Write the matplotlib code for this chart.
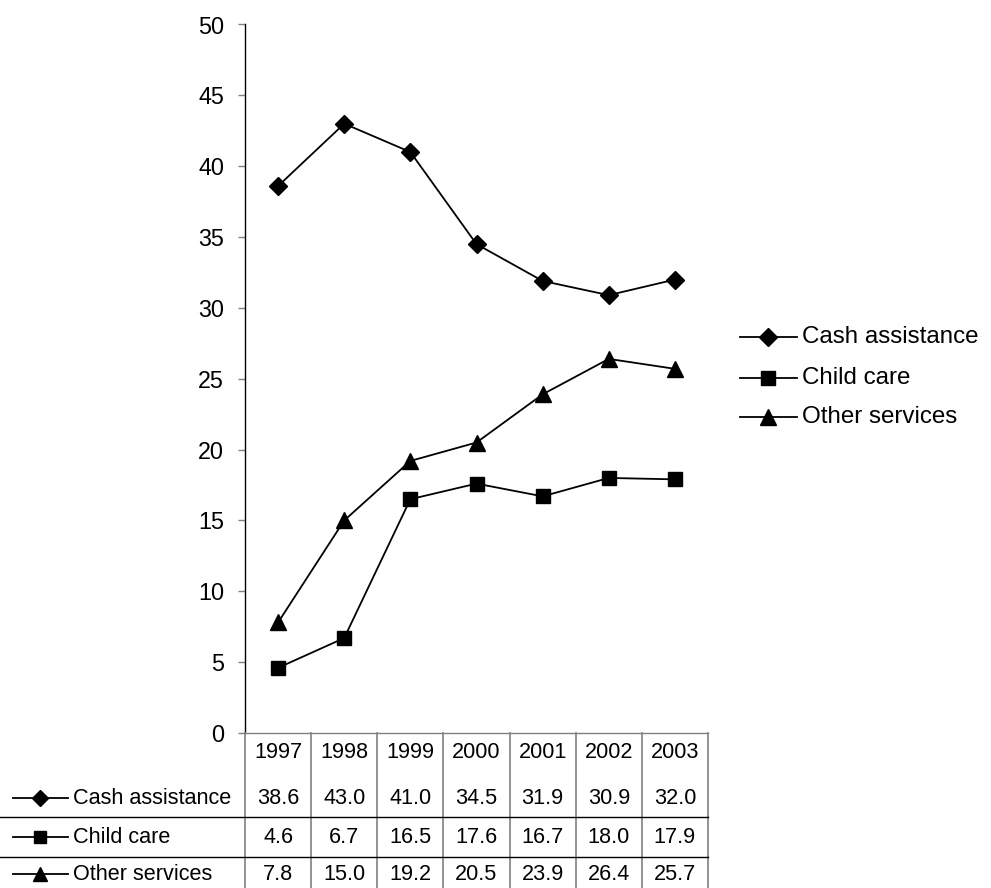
import matplotlib
matplotlib.use("Agg")
import matplotlib.pyplot as plt
import matplotlib.transforms as mtransforms
from matplotlib.lines import Line2D

plt.rcParams['font.family'] = ['Liberation Sans', 'DejaVu Sans']

years = ["1997", "1998", "1999", "2000", "2001", "2002", "2003"]
series_names = ["Cash assistance", "Child care", "Other services"]
cash_assistance = [38.6, 43.0, 41.0, 34.5, 31.9, 30.9, 32.0]
child_care = [4.6, 6.7, 16.5, 17.6, 16.7, 18.0, 17.9]
other_services = [7.8, 15.0, 19.2, 20.5, 23.9, 26.4, 25.7]
y_ticks = [0, 5, 10, 15, 20, 25, 30, 35, 40, 45, 50]

series = [cash_assistance, child_care, other_services]
markers = ["D", "s", "^"]
msizes = [9.5, 10, 11.5]

W, H = 991, 888
fig = plt.figure(figsize=(W / 100, H / 100), dpi=100)
ax = fig.add_axes([245 / W, (H - 733) / H, (708 - 245) / W, (733 - 24.5) / H])

x = list(range(len(years)))
for vals, m, ms, name in zip(series, markers, msizes, series_names):
    ax.plot(x, vals, color="black", lw=1.3, marker=m, markersize=ms,
            markerfacecolor="black", markeredgecolor="black", label=name)

ax.set_xlim(-0.5, len(years) - 0.5)
ax.set_ylim(0, 50)
ax.set_yticks(y_ticks)
ax.set_yticklabels([str(t) for t in y_ticks], fontsize=16.8)
ax.tick_params(axis="y", direction="out", length=5, width=1, color="#808080", pad=10)
ax.set_xticks([])
for s in ["top", "right"]:
    ax.spines[s].set_visible(False)
ax.spines["left"].set_color("black")
ax.spines["bottom"].set_color("#808080")
ax.spines["left"].set_linewidth(1)
ax.spines["bottom"].set_linewidth(1)

# data table beneath the plot
blend = mtransforms.blended_transform_factory(ax.transData, fig.transFigure)
fy = lambda py: (H - py) / H
fx = lambda px: px / W
table_fs = 15.6

for k in range(len(years) + 1):
    fig.add_artist(Line2D([k - 0.5, k - 0.5], [fy(733), 0], transform=blend,
                          color="#808080", lw=1.2))

for py in [817, 857]:
    fig.add_artist(Line2D([0, fx(708)], [fy(py), fy(py)], transform=fig.transFigure,
                          color="black", lw=1.0))

for i, yr in enumerate(years):
    fig.text(i, fy(752), yr, transform=blend, ha="center", va="center", fontsize=table_fs)

row_y = [798, 837, 874]
for vals, m, ms, name, ry in zip(series, markers, msizes, series_names, row_y):
    fig.add_artist(Line2D([fx(13), fx(68)], [fy(ry), fy(ry)], transform=fig.transFigure,
                          color="black", lw=1.3))
    fig.add_artist(Line2D([fx(40)], [fy(ry)], transform=fig.transFigure, marker=m,
                          markersize=ms * 0.85, color="black", lw=0))
    fig.text(fx(73), fy(ry), name, ha="left", va="center", fontsize=table_fs)
    for i, v in enumerate(vals):
        fig.text(i, fy(ry), f"{v:.1f}", transform=blend, ha="center", va="center",
                 fontsize=table_fs)

# legend on the right
leg_y = [337, 378, 417]
for m, ms, name, ly in zip(markers, msizes, series_names, leg_y):
    fig.add_artist(Line2D([fx(740), fx(797)], [fy(ly), fy(ly)], transform=fig.transFigure,
                          color="black", lw=1.3))
    fig.add_artist(Line2D([fx(768)], [fy(ly)], transform=fig.transFigure, marker=m,
                          markersize=ms, color="black", lw=0))
    fig.text(fx(802), fy(ly), name, ha="left", va="center", fontsize=17.4)

fig.savefig("out.png", dpi=100, facecolor="white")
